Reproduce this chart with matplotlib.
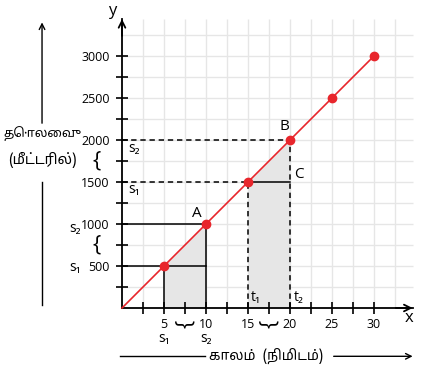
import matplotlib
matplotlib.use('Agg')
import matplotlib.pyplot as plt
from matplotlib import font_manager as fm

# ---- data ----
time_min = [5, 10, 15, 20, 25, 30]
distance_m = [500, 1000, 1500, 2000, 2500, 3000]
x_tick_values = [5, 10, 15, 20, 25, 30]
x_tick_labels = ['5', '10', '15', '20', '25', '30']
y_tick_values = [500, 1000, 1500, 2000, 2500, 3000]
y_tick_labels = ['500', '1000', '1500', '2000', '2500', '3000']
y_axis_title = ['தொலைவு', '(மீட்டரில்)']
x_axis_title = 'காலம்  (நிமிடம்)'


def find_tamil_font():
    try:
        from fontTools.ttLib import TTFont
    except Exception:
        return None
    found = []
    for f in sorted(fm.findSystemFonts()):
        try:
            tt = TTFont(f, fontNumber=0, lazy=True)
            cmap = tt.getBestCmap()
            if cmap and 0x0BA4 in cmap and 0x0BCA in cmap:
                found.append(f)
        except Exception:
            continue
    if not found:
        return None
    found.sort(key=lambda p: (0 if 'Noto' in p else 1, len(p)))
    return found[0]


tamil_path = find_tamil_font()
base = ['Open Sans', 'DejaVu Sans']
if tamil_path:
    fm.fontManager.addfont(tamil_path)
    tamil_name = fm.FontProperties(fname=tamil_path).get_name()
    tamil_family = [tamil_name] + base
else:
    tamil_family = base

plt.rcParams['font.family'] = base

RED = '#e8262c'
GRID = '#e6e6e6'
SHADE = '#e6e6e6'

fig = plt.figure(figsize=(4.21, 3.76), dpi=100)
ax = fig.add_axes([0, 0, 1, 1])
# pixel geometry: origin at (122, 308) px, 8.4 px per minute, 0.084 px per metre
ax.set_xlim(-122 / 8.4, (421 - 122) / 8.4)
ax.set_ylim((308 - 376) / 0.084, 308 / 0.084)

x_top = 34.6
y_top = 3440

# grid
gx = [2.5 * i for i in range(1, 14)]
gy = [250 * i for i in range(1, 14)]
ax.vlines(gx, 0, y_top, color=GRID, lw=1, zorder=0)
ax.hlines(gy, 0, x_top, color=GRID, lw=1, zorder=0)

# shaded areas under the line
t0, t1 = time_min[0], time_min[1]
d0, d1 = distance_m[0], distance_m[1]
ax.fill_between([t0, t1], [0, 0], [d0, d1], color=SHADE, lw=0, zorder=1)
t2, t3 = time_min[2], time_min[3]
d2, d3 = distance_m[2], distance_m[3]
ax.fill_between([t2, t3], [0, 0], [d2, d3], color=SHADE, lw=0, zorder=1)

# solid helper lines for A
ax.plot([t0, t0], [0, d0], color='black', lw=1.1, zorder=2)
ax.plot([t1, t1], [0, d1], color='black', lw=1.1, zorder=2)
ax.plot([0, t1], [d0, d0], color='black', lw=1.1, zorder=2)
ax.plot([0, t1], [d1, d1], color='black', lw=1.1, zorder=2)

# dashed helper lines for B / C
dash = (0, (3.5, 2.5))
ax.plot([t2, t2], [0, d2], color='black', lw=1.1, ls=dash, zorder=2)
ax.plot([t3, t3], [0, d3], color='black', lw=1.1, ls=dash, zorder=2)
ax.plot([0, t2], [d2, d2], color='black', lw=1.1, ls=dash, zorder=2)
ax.plot([0, t3], [d3, d3], color='black', lw=1.1, ls=dash, zorder=2)
ax.plot([t2, t3], [d2, d2], color='black', lw=1.1, zorder=2)

# the line and points
ax.plot([0] + time_min, [0] + distance_m, color=RED, lw=1.2, zorder=3)
ax.plot(time_min, distance_m, 'o', color=RED, ms=6, zorder=4)

# axes (spines through origin)
for s in ['top', 'right']:
    ax.spines[s].set_visible(False)
ax.spines['left'].set_position(('data', 0))
ax.spines['bottom'].set_position(('data', 0))
ax.spines['left'].set_bounds(0, y_top)
ax.spines['bottom'].set_bounds(0, x_top)
ax.spines['left'].set_linewidth(1.3)
ax.spines['bottom'].set_linewidth(1.3)
ax.annotate('', xy=(0, y_top), xytext=(0, y_top - 200),
            arrowprops=dict(arrowstyle='->', lw=1.3, color='black',
                            shrinkA=0, shrinkB=0, mutation_scale=12))
ax.annotate('', xy=(x_top, 0), xytext=(x_top - 2, 0),
            arrowprops=dict(arrowstyle='->', lw=1.3, color='black',
                            shrinkA=0, shrinkB=0, mutation_scale=12))

ax.set_xticks(x_tick_values)
ax.set_xticklabels(x_tick_labels)
ax.set_xticks(gx[:-1], minor=True)
ax.set_yticks(y_tick_values)
ax.set_yticklabels(y_tick_labels)
ax.set_yticks(gy[:-1], minor=True)
ax.tick_params(which='both', direction='inout', length=8, width=1.2,
               color='black', labelsize=9)
ax.tick_params(axis='x', pad=3)
ax.tick_params(axis='y', pad=5)

ax.text(-1.2, 3530, 'y', fontsize=12, ha='center', va='center')
ax.text(34.2, -120, 'x', fontsize=12, ha='center', va='center')

# point labels
ax.text(8.9, 1130, 'A', fontsize=11, ha='center', va='center')
ax.text(19.3, 2155, 'B', fontsize=11, ha='center', va='center')
ax.text(21.0, 1585, 'C', fontsize=11, ha='center', va='center')
ax.text(1.4, 1895, 's₂', fontsize=10, ha='center', va='center')
ax.text(1.4, 1405, 's₁', fontsize=10, ha='center', va='center')
ax.text(15.9, 130, 't₁', fontsize=10, ha='center', va='center')
ax.text(21.0, 130, 't₂', fontsize=10, ha='center', va='center')

# left side s labels and braces
ax.text(-5.6, 950, 's₂', fontsize=10, ha='center', va='center')
ax.text(-5.6, 480, 's₁', fontsize=10, ha='center', va='center')
ax.text(-3.0, 750, '{', fontsize=16, ha='center', va='center')
ax.text(-3.0, 1750, '{', fontsize=16, ha='center', va='center')

# bottom braces and s labels
ax.text(7.5, -190, '{', fontsize=16, ha='center', va='center', rotation=90)
ax.text(17.5, -190, '{', fontsize=16, ha='center', va='center', rotation=90)
ax.text(5, -360, 's₁', fontsize=10, ha='center', va='center')
ax.text(10, -360, 's₂', fontsize=10, ha='center', va='center')

# axis titles with long arrows
ax.text(-9.5, 2080, y_axis_title[0], fontsize=9, ha='center', va='center',
        family=tamil_family)
ax.text(-9.5, 1765, y_axis_title[1], fontsize=10.3, ha='center', va='center',
        family=tamil_family)
ax.annotate('', xy=(-9.52, 3400), xytext=(-9.52, 2200),
            arrowprops=dict(arrowstyle='->', lw=1.0, color='black',
                            shrinkA=0, shrinkB=0, mutation_scale=10))
ax.plot([-9.52, -9.52], [40, 1500], color='black', lw=1.0)

ax.text(17.1, -575, x_axis_title, fontsize=10, ha='center', va='center',
        family=tamil_family)
ax.plot([-0.2, 9.9], [-575, -575], color='black', lw=1.0)
ax.annotate('', xy=(34.6, -575), xytext=(25.2, -575),
            arrowprops=dict(arrowstyle='->', lw=1.0, color='black',
                            shrinkA=0, shrinkB=0, mutation_scale=10))

fig.savefig('out.png', dpi=100)
